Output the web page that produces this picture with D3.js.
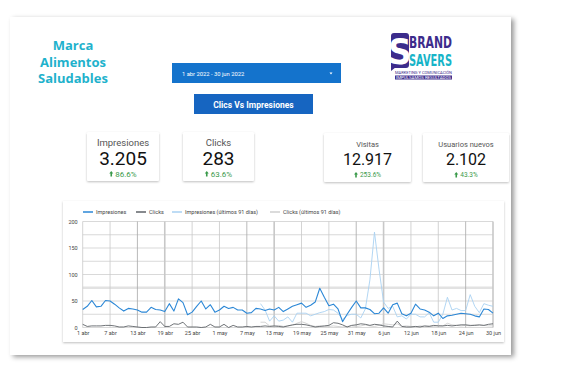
<!DOCTYPE html>
<html>
<head>
<meta charset="utf-8">
<script src="https://cdn.jsdelivr.net/npm/d3@7"></script>
<style>
  body { margin: 0; background: #fff; }
  svg { display: block; font-family: Roboto, "Noto Sans", sans-serif; }
</style>
</head>
<body>
<div id="chart"></div>
<script>
// Series values, one per day from 1 abr to 30 jun 2022
const impresiones = [34, 40, 51, 39, 40, 51, 50, 44, 37, 31, 36, 35, 33, 29, 29, 38, 34, 33, 30, 45,
  31, 54, 47, 24, 29, 40, 50, 35, 43, 29, 33, 40, 36, 38, 33, 33, 27, 28, 36, 35,
  32, 35, 33, 38, 30, 35, 40, 43, 46, 38, 42, 48, 74, 57, 41, 44, 35, 11, 25, 38,
  50, 37, 37, 34, 26, 27, 37, 27, 43, 46, 26, 22, 27, 44, 35, 33, 29, 22, 27, 17,
  22, 23, 25, 27, 26, 25, 22, 20, 35, 34, 27];
const clicks = [6, 2, 3, 3, 3, 4, 4, 3, 1, 1, 3, 2, 1, 0, 0, 1, 1, 11, 2, 2,
  7, 6, 10, 1, 1, 1, 0, 1, 6, 1, 1, 6, 0, 4, 1, 1, 2, 1, 2, 2,
  3, 2, 3, 2, 1, 3, 5, 6, 6, 5, 3, 1, 2, 3, 4, 9, 8, 5, 1, 4,
  5, 7, 6, 4, 6, 5, 3, 2, 1, 12, 2, 1, 1, 2, 1, 3, 2, 4, 3, 3,
  4, 3, 4, 5, 5, 4, 4, 5, 4, 6, 7];
const impresionesPrev = [null, null, null, null, null, null, null, null, null, null,
  null, null, null, null, null, null, null, null, null, null,
  null, null, null, null, null, null, null, null, null, null,
  null, null, null, null, null, null, null, null, null, 45,
  33, 12, 22, 12, 14, 20, 10, 27, 27, 27, 22, 25, 28, 30, 34, 33, 27, 15, 23, 25,
  25, 18, 35, 90, 180, 110, 48, 36, 40, 20, 22, 16, 25, 25, 20, 20, 28, 10, 10, 25,
  57, 33, 36, 32, 32, 62, 40, 28, 45, 42, 40];
const clicksPrev = [null, null, null, null, null, null, null, null, null, null,
  null, null, null, null, null, null, null, null, null, null,
  null, null, null, null, null, null, null, null, null, null,
  null, null, null, null, null, null, null, null, null, 10,
  10, 3, 2, 4, 2, 3, 4, 8, 11, 8, 4, 2, 3, 2, 2, 3, 2, 1, 2, 3,
  2, 3, 5, 3, 2, 4, 7, 6, 5, 7, 2, 3, 2, 1, 3, 2, 3, 2, 4, 3,
  8, 5, 4, 3, 4, 3, 5, 4, 4, 3, 3];

const tickLabels = ['1 abr', '7 abr', '13 abr', '19 abr', '25 abr', '1 may', '7 may', '13 may',
  '19 may', '25 may', '31 may', '6 jun', '12 jun', '18 jun', '24 jun', '30 jun'];
const yTicks = [0, 50, 100, 150, 200];

const seriesNames = ['Impresiones', 'Clicks', 'Impresiones (últimos 91 días)', 'Clicks (últimos 91 días)'];
const seriesColors = ['#2b87d6', '#5f6368', '#a9d1f2', '#cfcfcf'];

const scorecards = [
  { label: 'Impresiones', value: '3.205', change: '86.6%' },
  { label: 'Clicks', value: '283', change: '63.6%' },
  { label: 'Visitas', value: '12.917', change: '253.6%' },
  { label: 'Usuarios nuevos', value: '2.102', change: '43.3%' }
];

const W = 571, H = 365;
const svg = d3.select('#chart').append('svg').attr('width', W).attr('height', H);

const defs = svg.append('defs');
const pageShadow = defs.append('filter').attr('id', 'pageShadow')
  .attr('x', '-5%').attr('y', '-5%').attr('width', '115%').attr('height', '115%');
pageShadow.append('feDropShadow').attr('dx', 3).attr('dy', 2).attr('stdDeviation', 2.5)
  .attr('flood-color', '#000').attr('flood-opacity', 0.4);
const cardShadow = defs.append('filter').attr('id', 'cardShadow')
  .attr('x', '-10%').attr('y', '-10%').attr('width', '120%').attr('height', '130%');
cardShadow.append('feDropShadow').attr('dx', 0).attr('dy', 1).attr('stdDeviation', 1)
  .attr('flood-color', '#000').attr('flood-opacity', 0.25);

// Page card
svg.append('rect')
  .attr('x', 10).attr('y', 17).attr('width', 501).attr('height', 338)
  .attr('fill', '#fff').attr('filter', 'url(#pageShadow)');

// Title
svg.append('text')
  .attr('x', 73).attr('text-anchor', 'middle')
  .style('font-family', '"Open Sans", sans-serif')
  .style('font-weight', 'bold').style('font-size', '13px').attr('fill', '#1fb2cc')
  .selectAll('tspan').data(['Marca', 'Alimentos', 'Saludables']).enter()
  .append('tspan').attr('x', 73).attr('y', (d, i) => 50 + i * 16.5).text(d => d);

// Date range selector
svg.append('rect').attr('x', 172).attr('y', 63).attr('width', 169).attr('height', 20)
  .attr('fill', '#1473cc');
svg.append('text').attr('x', 182).attr('y', 75.5).attr('fill', '#fff')
  .style('font-size', '5.8px').text('1 abr 2022 - 30 jun 2022');
svg.append('path').attr('d', 'M329.5,72.5 l3,0 l-1.5,2 z').attr('fill', '#fff');

// Button
svg.append('rect').attr('x', 194).attr('y', 94).attr('width', 119).attr('height', 20)
  .attr('fill', '#1665c1');
svg.append('text').attr('x', 253.5).attr('y', 107.5).attr('text-anchor', 'middle')
  .attr('fill', '#fff').style('font-size', '8.5px').style('font-weight', 'bold')
  .text('Clics Vs Impresiones');

// Logo
const logo = svg.append('g');
const narrow = '"Liberation Sans Narrow", "DejaVu Sans Condensed", sans-serif';
logo.append('rect').attr('x', 391).attr('y', 33).attr('width', 18).attr('height', 35)
  .attr('rx', 3).attr('fill', '#3c2c8c');
logo.append('path').attr('d', 'M391,63 v8 l5,-4 z').attr('fill', '#3c2c8c');
logo.append('text').attr('x', 400).attr('y', 64).attr('text-anchor', 'middle')
  .attr('fill', '#fff').style('font-family', narrow).style('font-weight', 'bold')
  .style('font-size', '36px').text('S');
logo.append('text').attr('x', 409).attr('y', 48).attr('fill', '#3c2c8c')
  .style('font-family', narrow)
  .style('font-weight', 'bold').style('font-size', '16.5px').attr('textLength', 43)
  .attr('lengthAdjust', 'spacingAndGlyphs').text('BRAND');
logo.append('text').attr('x', 409).attr('y', 66).attr('fill', '#17b4c8')
  .style('font-family', narrow)
  .style('font-weight', 'bold').style('font-size', '16.5px').attr('textLength', 43)
  .attr('lengthAdjust', 'spacingAndGlyphs').text('SAVERS');
logo.append('text').attr('x', 395).attr('y', 74).attr('fill', '#3c2c8c')
  .style('font-size', '3.2px').attr('textLength', 57)
  .attr('lengthAdjust', 'spacingAndGlyphs').text('MARKETING Y COMUNICACIÓN');
logo.append('rect').attr('x', 395).attr('y', 75.5).attr('width', 57).attr('height', 4)
  .attr('fill', '#3c2c8c');
logo.append('text').attr('x', 396).attr('y', 78.7).attr('fill', '#fff')
  .style('font-size', '3px').attr('textLength', 55)
  .attr('lengthAdjust', 'spacingAndGlyphs').text('IMPULSAMOS RESULTADOS');

// Scorecards
const cardBoxes = [
  { x: 87, y: 132, w: 72, h: 49, big: true },
  { x: 183, y: 132, w: 71, h: 49, big: true },
  { x: 324, y: 133, w: 87, h: 49, big: false },
  { x: 423, y: 133, w: 86, h: 49, big: false }
];
scorecards.forEach((d, i) => {
  const b = cardBoxes[i];
  const cx = b.x + b.w / 2;
  const g = svg.append('g');
  g.append('rect').attr('x', b.x).attr('y', b.y).attr('width', b.w).attr('height', b.h)
    .attr('rx', 1.5).attr('fill', '#fff').attr('filter', 'url(#cardShadow)');
  g.append('text').attr('x', cx).attr('y', b.big ? 146 : 147).attr('text-anchor', 'middle')
    .attr('fill', '#555').style('font-size', b.big ? '9.5px' : '7.5px').text(d.label);
  g.append('text').attr('x', cx).attr('y', 165).attr('text-anchor', 'middle')
    .attr('fill', '#111').style('font-size', b.big ? '19px' : '16px').text(d.value);
  g.append('text').attr('x', cx + 3).attr('y', 177).attr('text-anchor', 'middle')
    .attr('fill', '#3a9a4a').style('font-size', b.big ? '8px' : '6.5px').text(d.change);
  const tw = b.big ? d.change.length * 4.3 : d.change.length * 3.5;
  const ax = cx + 3 - tw / 2 - 4;
  const ay = b.big ? 171 : 172;
  g.append('path')
    .attr('d', `M${ax - 2},${ay + 2.5} l2,-2.5 l2,2.5 h-1.2 v3 h-1.6 v-3 z`)
    .attr('fill', '#3a9a4a');
});

// Chart card
svg.append('rect').attr('x', 63).attr('y', 201).attr('width', 441).attr('height', 141)
  .attr('fill', '#fff').attr('filter', 'url(#cardShadow)');

const plot = { left: 82.7, right: 493, top: 221.5, bottom: 327.5 };
const x = d3.scaleLinear().domain([0, impresiones.length - 1]).range([plot.left, plot.right]);
const y = d3.scaleLinear().domain([0, 200]).range([plot.bottom, plot.top]);

// Grid
const grid = svg.append('g');
grid.selectAll('.hgrid').data(d3.range(0, 201, 25)).enter().append('line')
  .attr('x1', plot.left).attr('x2', plot.right)
  .attr('y1', d => y(d)).attr('y2', d => y(d))
  .attr('stroke', d => d === 75 ? '#e2e2e2' : '#cfcfcf')
  .attr('stroke-width', d => d === 75 ? 2.5 : 0.8);
const xTickVals = tickLabels.map((t, i) => i * 6);
grid.selectAll('.vgrid').data(xTickVals).enter().append('line')
  .attr('x1', d => x(d)).attr('x2', d => x(d))
  .attr('y1', plot.top).attr('y2', plot.bottom)
  .attr('stroke', (d, i) => i % 4 === 2 ? '#a8a8a8' : '#c8c8c8')
  .attr('stroke-width', (d, i) => i % 4 === 3 ? 1.6 : 0.8);

// Axes
const yAxis = svg.append('g').attr('transform', `translate(${plot.left},0)`)
  .call(d3.axisLeft(y).tickValues(yTicks).tickSize(0).tickPadding(5));
yAxis.select('.domain').remove();
yAxis.selectAll('text').style('font-size', '5.5px').attr('fill', '#444')
  .style('font-family', 'Roboto, sans-serif');

const xAxis = svg.append('g').attr('transform', `translate(0,${plot.bottom})`)
  .call(d3.axisBottom(x).tickValues(xTickVals).tickFormat((d, i) => tickLabels[i])
    .tickSize(0).tickPadding(4));
xAxis.select('.domain').remove();
xAxis.selectAll('text').style('font-size', '5.5px').attr('fill', '#444')
  .style('font-family', 'Roboto, sans-serif');

// Lines
const line = d3.line()
  .defined(d => d != null)
  .x((d, i) => x(i))
  .y(d => y(d));
const allSeries = [impresiones, clicks, impresionesPrev, clicksPrev];
const drawOrder = [3, 2, 1, 0];
drawOrder.forEach(k => {
  svg.append('path').datum(allSeries[k])
    .attr('fill', 'none').attr('stroke', seriesColors[k])
    .attr('stroke-width', k === 0 ? 1.1 : 0.9)
    .attr('stroke-linejoin', 'round')
    .attr('d', line);
});

// Legend
const legendX = [83, 136, 172, 270];
const legend = svg.append('g');
seriesNames.forEach((name, i) => {
  legend.append('line').attr('x1', legendX[i]).attr('x2', legendX[i] + 10)
    .attr('y1', 212).attr('y2', 212)
    .attr('stroke', seriesColors[i]).attr('stroke-width', 1.5);
  legend.append('text').attr('x', legendX[i] + 13).attr('y', 214)
    .attr('fill', '#444').style('font-size', '5.5px').text(name);
});
</script>
</body>
</html>
